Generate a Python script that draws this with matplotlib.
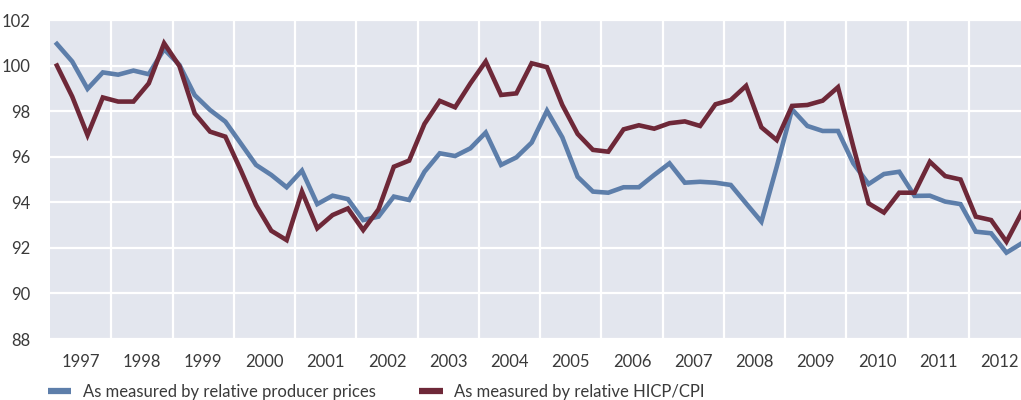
import numpy as np
import matplotlib
matplotlib.use("Agg")
import matplotlib.pyplot as plt

# quarterly data, 1997 Q1 - 2012 Q4
years = list(range(1997, 2013))

producer_prices = [
    100.95, 100.18, 98.98, 99.70, 99.60, 99.78, 99.62, 100.72,   # 1997-1998
    100.03, 98.70, 98.05, 97.54, 96.59, 95.64, 95.20, 94.66,     # 1999-2000
    95.39, 93.92, 94.29, 94.14, 93.22, 93.37, 94.25, 94.10,      # 2001-2002
    95.34, 96.15, 96.03, 96.37, 97.06, 95.64, 95.97, 96.62,      # 2003-2004
    98.02, 96.85, 95.12, 94.47, 94.42, 94.66, 94.66, 95.20,      # 2005-2006
    95.71, 94.86, 94.90, 94.86, 94.76, 93.95, 93.15, 95.56,      # 2007-2008
    98.08, 97.35, 97.13, 97.13, 95.71, 94.80, 95.24, 95.34,      # 2009-2010
    94.28, 94.29, 94.03, 93.92, 92.71, 92.64, 91.79, 92.20,      # 2011-2012
]

hicp_cpi = [
    100.00, 98.64, 96.95, 98.60, 98.42, 98.42, 99.22, 100.98,
    99.98, 97.90, 97.10, 96.88, 95.42, 93.88, 92.75, 92.34,
    94.47, 92.86, 93.44, 93.73, 92.78, 93.69, 95.56, 95.83,
    97.44, 98.45, 98.17, 99.22, 100.18, 98.71, 98.78, 100.10,
    99.93, 98.27, 97.00, 96.30, 96.22, 97.20, 97.38, 97.23,
    97.47, 97.55, 97.35, 98.30, 98.49, 99.11, 97.29, 96.73,
    98.23, 98.27, 98.46, 99.05, 96.44, 93.95, 93.55, 94.42,
    94.42, 95.78, 95.15, 95.00, 93.37, 93.22, 92.27, 93.55,
]

labels = ["As measured by relative producer prices",
          "As measured by relative HICP/CPI"]

blue = "#5d7eaa"
maroon = "#6e2838"
bg = "#e3e6ee"
text_col = "#3a3a3a"

plt.rcParams['font.family'] = ['Lato', 'DejaVu Sans']

fig = plt.figure(figsize=(10.21, 4.0), dpi=100)
ax = fig.add_axes([50 / 1021, 1 - 339 / 400, 971 / 1021, 319 / 400])
ax.set_facecolor(bg)

x = np.arange(len(producer_prices))
ax.plot(x, producer_prices, color=blue, lw=3.3, label=labels[0],
        solid_joinstyle='miter')
ax.plot(x, hicp_cpi, color=maroon, lw=3.3, label=labels[1],
        solid_joinstyle='miter')

ax.set_ylim(88, 102)
ax.set_yticks(np.arange(88, 103, 2))
ax.set_xlim(-0.45, 62.95)

# year boundaries as gridlines, labels in the middle of each year
ax.set_xticks([4 * k - 0.45 for k in range(1, len(years))])
ax.set_xticks([4 * k + 1.55 for k in range(len(years))], minor=True)
ax.set_xticklabels([])
ax.set_xticklabels([str(y) for y in years], minor=True)

ax.grid(True, which='major', color='white', lw=1.6)
ax.set_axisbelow(True)
for s in ax.spines.values():
    s.set_visible(False)

ax.tick_params(axis='both', which='both', length=0, labelsize=12,
               labelcolor=text_col)
ax.tick_params(axis='y', pad=14)
ax.tick_params(axis='x', which='minor', pad=11)

fig.legend(loc='center left', bbox_to_anchor=(48 / 1021, 8 / 400), ncol=2,
           frameon=False, fontsize=12, handlelength=1.4,
           handletextpad=0.7, columnspacing=2.6, borderaxespad=0,
           borderpad=0, labelcolor=text_col)
for line in fig.legends[0].get_lines():
    line.set_linewidth(4.5)
    line.set_solid_capstyle('butt')

fig.savefig("out.png", dpi=100)
